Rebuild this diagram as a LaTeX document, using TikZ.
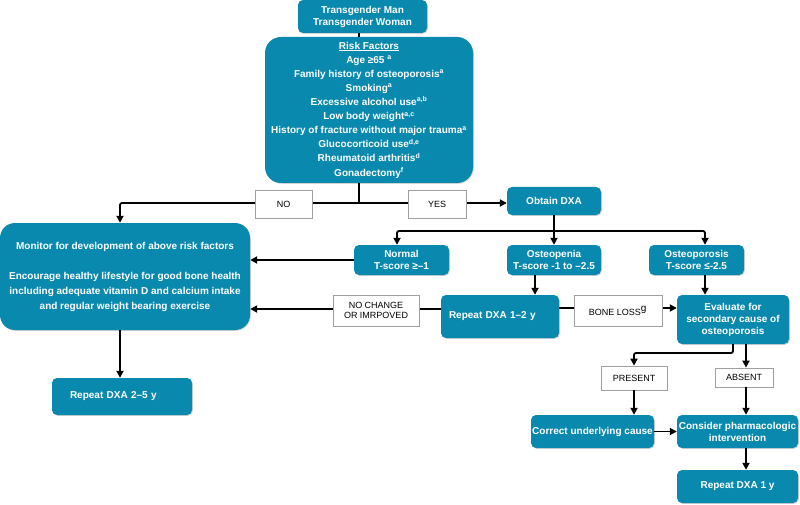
\documentclass[tikz,border=0pt]{standalone}
\usepackage{fontspec}
\setmainfont{Liberation Sans}
\usetikzlibrary{arrows.meta,shadows}
\definecolor{tealbox}{RGB}{10,137,174}
\begin{document}
\begin{tikzpicture}[x=1pt,y=-1pt,
 box/.style={fill=tealbox, text=white, font=\bfseries\fontsize{10}{12}\selectfont, rounded corners=5pt, inner sep=0pt, align=center,
   drop shadow={shadow xshift=0.8pt, shadow yshift=-0.8pt, fill=gray!35, opacity=1}},
 lbl/.style={draw=gray!75, fill=white, font=\fontsize{9}{10.5}\selectfont, inner sep=0pt, align=center, line width=0.8pt},
 arr/.style={-{Triangle[length=7pt,width=7pt]}, line width=1.8pt, rounded corners=2pt},
 ln/.style={line width=1.8pt, rounded corners=2pt}]
\useasboundingbox (0,0) rectangle (800,505);
% main nodes
\node[box, minimum width=129pt, minimum height=33pt] (top) at (362.5,16.5) {Transgender Man\\Transgender Woman};
\node[box, rounded corners=16pt, minimum width=208pt, minimum height=146pt, font=\bfseries\fontsize{10}{14.1}\selectfont] (risk) at (369,110)
 {\underline{Risk Factors}\\
  Age ≥65 \textsuperscript{a}\\
  Family history of osteoporosis\textsuperscript{a}\\
  Smoking\textsuperscript{a}\\
  Excessive alcohol use\textsuperscript{a,b}\\
  Low body weight\textsuperscript{a,c}\\
  History of fracture without major trauma\textsuperscript{a}\\
  Glucocorticoid use\textsuperscript{d,e}\\
  Rheumatoid arthritis\textsuperscript{d}\\
  Gonadectomy\textsuperscript{f}};
\node[box, rounded corners=15pt, minimum width=250pt, minimum height=107pt, font=\bfseries\fontsize{10}{15}\selectfont] (monitor) at (125,276.5)
 {Monitor for development of above risk factors\\[15pt]
  Encourage healthy lifestyle for good bone health\\
  including adequate vitamin D and calcium intake\\
  and regular weight bearing exercise};
\node[box, minimum width=94pt, minimum height=28pt] (obtain) at (554,201) {Obtain DXA};
\node[box, minimum width=95pt, minimum height=30pt] (normal) at (401.5,260) {Normal\\T-score ≥–1};
\node[box, minimum width=94pt, minimum height=30pt] (osteopenia) at (554,260) {Osteopenia\\T-score -1 to –2.5};
\node[box, minimum width=95pt, minimum height=30pt] (osteoporosis) at (696.5,260) {Osteoporosis\\T-score ≤-2.5};
\node[box, minimum width=118pt, minimum height=43pt, text width=102pt, align=left] (repeat12) at (500,316.5) {Repeat DXA 1–2 y};
\node[box, minimum width=112pt, minimum height=49pt] (evaluate) at (733,319.5) {Evaluate for\\secondary cause of\\osteoporosis};
\node[box, minimum width=140pt, minimum height=37pt, text width=104pt, align=left] (repeat25) at (122,396.5) {Repeat DXA 2–5 y};
\node[lbl, minimum width=66pt, minimum height=24pt] (present) at (634,378) {PRESENT};
\node[lbl, minimum width=58pt, minimum height=19pt] (absent) at (744,377.5) {ABSENT};
\node[box, minimum width=123pt, minimum height=33pt] (correct) at (592.5,431.5) {Correct underlying cause};
\node[box, minimum width=121pt, minimum height=33pt] (consider) at (737.5,431.5) {Consider pharmacologic\\intervention};
\node[box, minimum width=121pt, minimum height=33pt] (repeat1) at (737.5,486.5) {Repeat DXA 1 y};
% helper coordinates
\coordinate (xa) at (359,0);
\coordinate (xm) at (120,0);
\coordinate (j1) at (359,203);
\coordinate (jb) at (554,231);
\coordinate (xn) at (397,0);
\coordinate (xo) at (705,0);
\coordinate (xp) at (535,0);
\coordinate (ya) at (0,309);
\coordinate (yb) at (0,308);
\coordinate (xe1) at (733,0);
\coordinate (xe2) at (746,0);
\coordinate (je) at (733,353);
% connectors
\draw[ln] (top.south -| xa) -- (risk.north -| xa);
\draw[ln] (risk.south -| xa) -- (j1);
\draw[arr] (j1) -| (monitor.north -| xm);
\draw[arr] (j1) -- (obtain.west |- j1);
\draw[ln] (obtain.south) -- (jb);
\draw[arr] (jb) -- (osteopenia.north);
\draw[arr] (jb) -| (normal.north -| xn);
\draw[arr] (jb) -| (osteoporosis.north -| xo);
\draw[arr] (normal.west) -- (monitor.east |- normal.west);
\draw[arr] (osteopenia.south -| xp) -- (repeat12.north -| xp);
\draw[arr] (repeat12.west |- ya) -- (monitor.east |- ya);
\draw[arr] (repeat12.east |- yb) -- (evaluate.west |- yb);
\draw[arr] (osteoporosis.south -| xo) -- (evaluate.north -| xo);
\draw[arr] (evaluate.south -| xe1) -- (je) -| (present.north);
\draw[arr] (evaluate.south -| xe2) -- (absent.north -| xe2);
\draw[arr] (present.south) -- (correct.north -| present.south);
\draw[arr] (absent.south -| xe2) -- (consider.north -| xe2);
\draw[arr] (correct.east) -- (consider.west);
\draw[arr] (consider.south -| xe2) -- (repeat1.north -| xe2);
\draw[arr] (monitor.south -| xm) -- (repeat25.north -| xm);
% labels on connectors
\node[lbl, minimum width=57pt, minimum height=28pt] (no) at (283.5,204) {NO};
\node[lbl, minimum width=58pt, minimum height=28pt] (yes) at (437,204) {YES};
\node[lbl, minimum width=86pt, minimum height=31pt] (nochange) at (376,310.5) {NO CHANGE\\OR IMRPOVED};
\node[lbl, minimum width=88pt, minimum height=31pt] (boneloss) at (618,310.5) {BONE LOSS\textsuperscript{\fontsize{10}{10}\selectfont g}};
\end{tikzpicture}
\end{document}
